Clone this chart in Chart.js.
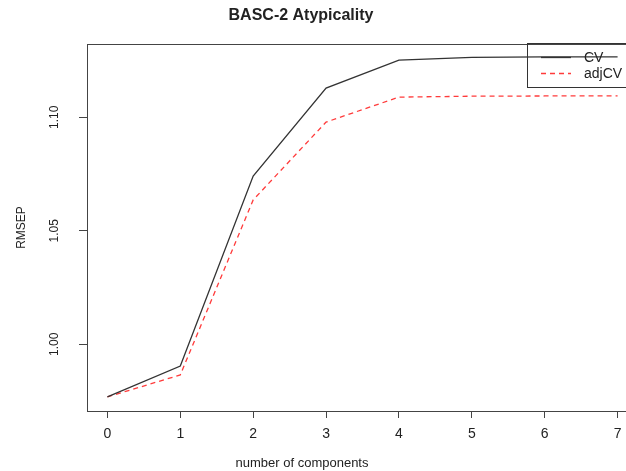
<!DOCTYPE html>
<html>
<head>
<meta charset="utf-8">
<script src="https://cdn.jsdelivr.net/npm/chart.js@4/dist/chart.umd.min.js"></script>
<style>
  html, body { margin: 0; padding: 0; overflow: hidden; background: #fff; }
  #wrap { width: 640px; height: 471px; }
</style>
</head>
<body>
<div id="wrap"><canvas id="rmsepChart" width="640" height="471"></canvas></div>
<script>
  // values
  const components = [0, 1, 2, 3, 4, 5, 6, 7];
  const cvValues = [0.9768, 0.9904, 1.0741, 1.1129, 1.1252, 1.1264, 1.1266, 1.1266];
  const adjCvValues = [0.9768, 0.9865, 1.0636, 1.0979, 1.1089, 1.1093, 1.1094, 1.1094];
  const xTicks = [0, 1, 2, 3, 4, 5, 6, 7];
  const yTicks = [1.00, 1.05, 1.10];
  const seriesLabels = ["CV", "adjCV"];
  const chartTitle = "BASC-2 Atypicality";
  const xLabel = "number of components";
  const yLabel = "RMSEP";

  const FONT = "'Liberation Sans', Arial, sans-serif";
  const INK = "#222";
  const AXIS = "#444";

  // R-style box, main title, x label and legend
  const rDecor = {
    id: "rDecor",
    afterDatasetsDraw(chart) {
      const { ctx, chartArea: a } = chart;
      ctx.save();
      ctx.strokeStyle = AXIS;
      ctx.lineWidth = 1;
      ctx.strokeRect(a.left + 0.5, a.top + 0.5, a.right - a.left, a.bottom - a.top);

      // legend
      const lx = 527, ly = 43;
      ctx.strokeStyle = "#333";
      ctx.strokeRect(lx + 0.5, ly + 0.5, 140, 44);
      ctx.font = "14px " + FONT;
      ctx.textBaseline = "middle";
      ctx.textAlign = "left";
      chart.data.datasets.forEach((ds, i) => {
        const y = 57 + i * 16;
        ctx.strokeStyle = ds.borderColor;
        ctx.lineWidth = ds.borderWidth;
        ctx.setLineDash(ds.borderDash || []);
        ctx.beginPath();
        ctx.moveTo(541, y + 0.5);
        ctx.lineTo(571, y + 0.5);
        ctx.stroke();
        ctx.setLineDash([]);
        ctx.fillStyle = INK;
        ctx.fillText(ds.label, 584, y + 1);
      });

      ctx.fillStyle = INK;
      ctx.textAlign = "center";
      ctx.font = "bold 16px " + FONT;
      ctx.fillText(chartTitle, 301, 16);
      ctx.font = "13px " + FONT;
      ctx.fillText(xLabel, 302, 463);
      ctx.restore();
    }
  };

  const ctx = document.getElementById("rmsepChart").getContext("2d");
  new Chart(ctx, {
    type: "line",
    data: {
      datasets: [
        {
          label: seriesLabels[0],
          data: components.map((c, i) => ({ x: c, y: cvValues[i] })),
          borderColor: "#333",
          borderWidth: 1.3,
          pointRadius: 0,
          tension: 0
        },
        {
          label: seriesLabels[1],
          data: components.map((c, i) => ({ x: c, y: adjCvValues[i] })),
          borderColor: "#ff3b3b",
          borderWidth: 1.3,
          borderDash: [5, 4],
          pointRadius: 0,
          tension: 0
        }
      ]
    },
    options: {
      responsive: false,
      animation: false,
      devicePixelRatio: 1,
      layout: { padding: { top: 44, right: 2, left: 0, bottom: 0 } },
      plugins: {
        legend: { display: false },
        title: { display: false },
        tooltip: { enabled: false }
      },
      scales: {
        x: {
          type: "linear",
          min: -0.28,
          max: 7.28,
          afterBuildTicks: s => { s.ticks = xTicks.map(v => ({ value: v })); },
          afterFit: s => { s.height = 60; },
          grid: { drawOnChartArea: false, drawTicks: true, tickLength: 7, color: AXIS },
          border: { color: AXIS, width: 1 },
          ticks: {
            color: INK,
            padding: 8,
            maxRotation: 0,
            font: { family: FONT, size: 14 },
            callback: v => String(v)
          }
        },
        y: {
          type: "linear",
          min: 0.9706,
          max: 1.1323,
          afterBuildTicks: s => { s.ticks = yTicks.map(v => ({ value: v })); },
          afterFit: s => { s.width = 87; },
          grid: { drawOnChartArea: false, drawTicks: true, tickLength: 8, color: AXIS },
          border: { color: AXIS, width: 1 },
          title: {
            display: true,
            text: yLabel,
            color: INK,
            font: { family: FONT, size: 12 },
            padding: { top: 14, bottom: 0 }
          },
          ticks: {
            color: INK,
            padding: 13,
            minRotation: 90,
            maxRotation: 90,
            crossAlign: "center",
            font: { family: FONT, size: 12 },
            callback: v => v.toFixed(2)
          }
        }
      }
    },
    plugins: [rDecor]
  });
</script>
</body>
</html>
